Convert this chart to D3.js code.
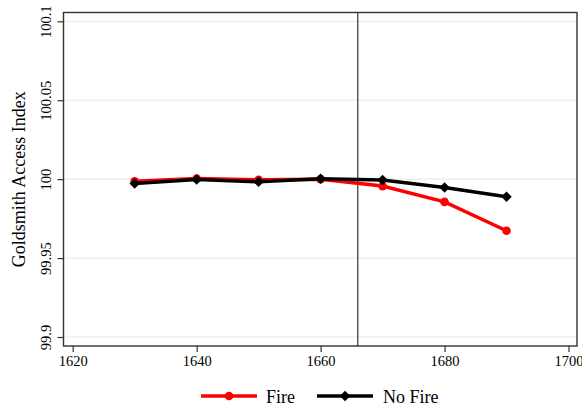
<!DOCTYPE html>
<html>
<head>
<meta charset="utf-8">
<script src="https://cdn.jsdelivr.net/npm/d3@7"></script>
<style>
  body { margin: 0; background: #fff; }
  svg text { font-family: "Liberation Serif", "Times New Roman", serif; }
</style>
</head>
<body>
<div id="chart"></div>
<script>
// data
const years = [1630, 1640, 1650, 1660, 1670, 1680, 1690];
const fire = [99.9987, 100.0004, 99.9996, 100.0, 99.9956, 99.9856, 99.9673];
const noFire = [99.9973, 99.9998, 99.9983, 100.0002, 99.9994, 99.9947, 99.9888];
const xTicks = [1620, 1640, 1660, 1680, 1700];
const yTicks = [99.9, 99.95, 100, 100.05, 100.1];
const yTickLabels = ["99.9", "99.95", "100", "100.05", "100.1"];
const fireYear = 1666;

const width = 582, height = 408;
const frame = { left: 63.5, right: 577, top: 12.5, bottom: 346 };
const serif = "Liberation Serif, Times New Roman, serif";

const svg = d3.select("#chart").append("svg")
  .attr("width", width)
  .attr("height", height);

const x = d3.scaleLinear().domain([1620, 1700]).range([72.7, 568.5]);
const y = d3.scaleLinear().domain([99.9, 100.1]).range([337, 21.3]);

// gridlines
svg.append("g")
  .selectAll("line")
  .data(yTicks)
  .enter().append("line")
  .attr("x1", frame.left).attr("x2", frame.right)
  .attr("y1", d => y(d)).attr("y2", d => y(d))
  .style("stroke", "#e6e6e6")
  .style("stroke-width", 1);

// y axis
const yAxis = svg.append("g")
  .attr("transform", "translate(" + frame.left + ",0)")
  .call(d3.axisLeft(y).tickValues(yTicks).tickSize(6).tickPadding(7)
    .tickFormat((d, i) => yTickLabels[i]))
  .attr("font-family", serif)
  .attr("font-size", 14.5);
yAxis.select(".domain").remove();
yAxis.selectAll(".tick line").style("stroke", "#333").style("stroke-width", 1.2);
yAxis.selectAll(".tick text")
  .attr("transform", "rotate(-90)")
  .attr("x", 0)
  .attr("y", -13)
  .attr("dy", 0)
  .attr("text-anchor", "middle")
  .attr("fill", "#000");

// x axis
const xAxis = svg.append("g")
  .attr("transform", "translate(0," + frame.bottom + ")")
  .call(d3.axisBottom(x).tickValues(xTicks).tickSize(6).tickPadding(4)
    .tickFormat(d3.format("d")))
  .attr("font-family", serif)
  .attr("font-size", 14.5);
xAxis.select(".domain").remove();
xAxis.selectAll(".tick line").style("stroke", "#333").style("stroke-width", 1.2);
xAxis.selectAll(".tick text").attr("fill", "#000");

// frame
svg.append("rect")
  .attr("x", frame.left).attr("y", frame.top)
  .attr("width", frame.right - frame.left)
  .attr("height", frame.bottom - frame.top)
  .style("fill", "none")
  .style("stroke", "#333")
  .style("stroke-width", 1.4);

// great fire line
svg.append("line")
  .attr("x1", x(fireYear)).attr("x2", x(fireYear))
  .attr("y1", frame.top).attr("y2", frame.bottom)
  .style("stroke", "#333")
  .style("stroke-width", 1.2);

// axis title
svg.append("text")
  .attr("transform", "translate(25," + ((frame.top + frame.bottom) / 2) + ") rotate(-90)")
  .style("text-anchor", "middle")
  .style("font-size", "18px")
  .text("Goldsmith Access Index");

const line = d3.line().x(d => x(d[0])).y(d => y(d[1]));
const fireData = years.map((yr, i) => [yr, fire[i]]);
const noFireData = years.map((yr, i) => [yr, noFire[i]]);

const diamond = d3.symbol().type(d3.symbolDiamond2).size(70);

// Fire series
svg.append("path")
  .datum(fireData)
  .attr("d", line)
  .style("fill", "none")
  .style("stroke", "#ff0000")
  .style("stroke-width", 3.5);
svg.selectAll(".firePt")
  .data(fireData)
  .enter().append("circle")
  .attr("class", "firePt")
  .attr("cx", d => x(d[0]))
  .attr("cy", d => y(d[1]))
  .attr("r", 4.3)
  .style("fill", "#ff0000");

// No Fire series
svg.append("path")
  .datum(noFireData)
  .attr("d", line)
  .style("fill", "none")
  .style("stroke", "#000")
  .style("stroke-width", 3.5);
svg.selectAll(".noFirePt")
  .data(noFireData)
  .enter().append("path")
  .attr("class", "noFirePt")
  .attr("transform", d => "translate(" + x(d[0]) + "," + y(d[1]) + ")")
  .attr("d", diamond)
  .style("fill", "#000");

// legend
const legY = 396;
svg.append("line").attr("x1", 201).attr("x2", 257).attr("y1", legY).attr("y2", legY)
  .style("stroke", "#ff0000").style("stroke-width", 3.5);
svg.append("circle").attr("cx", 229).attr("cy", legY).attr("r", 4.3).style("fill", "#ff0000");
svg.append("text").attr("x", 266).attr("y", legY + 6.5).text("Fire").style("font-size", "18px");

svg.append("line").attr("x1", 317).attr("x2", 373).attr("y1", legY).attr("y2", legY)
  .style("stroke", "#000").style("stroke-width", 3.5);
svg.append("path").attr("transform", "translate(345," + legY + ")").attr("d", diamond).style("fill", "#000");
svg.append("text").attr("x", 383).attr("y", legY + 6.5).text("No Fire").style("font-size", "18px");
</script>
</body>
</html>
